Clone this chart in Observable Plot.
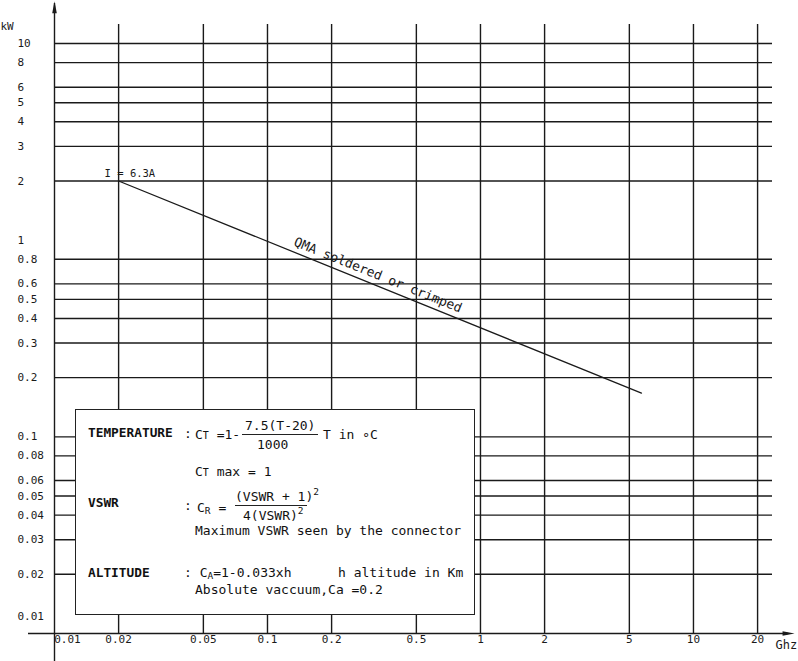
<!DOCTYPE html>
<html>
<head>
<meta charset="utf-8">
<script src="https://cdn.jsdelivr.net/npm/d3@7"></script>
<script src="https://cdn.jsdelivr.net/npm/@observablehq/plot@0.6"></script>
<style>
  html, body { margin: 0; padding: 0; background: #fff; }
  #wrap { position: relative; width: 798px; height: 661px; font-family: "DejaVu Sans Mono", monospace; color: #111; }
  #box { position: absolute; left: 75px; top: 409px; width: 398px; height: 204px; border: 1.5px solid #222; background: #fff; }
  #box .t { position: absolute; font-size: 13px; line-height: 1; white-space: pre; transform: translateY(-50%); }
  #box .b { font-weight: 700; font-size: 12.8px; }
  #box .sm { font-size: 10px; }
  #box .sub { font-size: 9.5px; position: relative; top: 2px; line-height: 1; }
  #box .sup { font-size: 9.5px; position: relative; top: -6px; line-height: 1; }
  #box .bar { position: absolute; height: 0; border-top: 1.2px solid #222; }
</style>
</head>
<body>
<div id="wrap"></div>
<script>
// ---- data ----
const xTicks = [0.01, 0.02, 0.05, 0.1, 0.2, 0.5, 1, 2, 5, 10, 20];
const yTicks = [0.01, 0.02, 0.03, 0.04, 0.05, 0.06, 0.08, 0.1, 0.2, 0.3, 0.4, 0.5, 0.6, 0.8, 1, 2, 3, 4, 5, 6, 8, 10];
const xGrid = [0.02, 0.05, 0.1, 0.2, 0.5, 1, 2, 5, 10, 20];
const yGrid = [0.02, 0.03, 0.04, 0.05, 0.06, 0.08, 0.1, 0.2, 0.3, 0.4, 0.5, 0.6, 0.8, 2, 3, 4, 5, 6, 8, 10];
const curveFreq = [0.02, 5.7];     // GHz
const curvePower = [2, 0.167];     // kW
const curveLabel = {x: 0.33, y: 0.584, text: "QMA soldered or crimped"};
const currentLabel = {x: 0.02, y: 2, text: "I = 6.3A"};
const xDomain = [0.01, 23.5];
const yDomain = [0.01, 12.5];
const xAxisExtent = [0.00755, 28];
const yAxisExtent = [0.0072, 16];
const xArrowAt = 27.6;
const yArrowAt = 15.1;

const curve = curveFreq.map((f, i) => ({f, p: curvePower[i]}));

const arrowSymbol = {
  draw(context, size) {
    const r = Math.sqrt(size / Math.PI);
    const h = 3 * r, w = 1.15 * r;
    context.moveTo(0, -0.6 * h);
    context.lineTo(w / 2, 0.4 * h);
    context.lineTo(-w / 2, 0.4 * h);
    context.closePath();
  }
};

const ink = "#1a1a1a";

const chart = Plot.plot({
  width: 798,
  height: 661,
  marginLeft: 54,
  marginRight: 26,
  marginTop: 24,
  marginBottom: 28,
  style: {fontFamily: "DejaVu Sans Mono", fontSize: "11px", background: "white", color: ink, overflow: "visible"},
  x: {type: "log", domain: xDomain, axis: null},
  y: {type: "log", domain: yDomain, axis: null},
  marks: [
    Plot.ruleY(yGrid, {y: d => d, stroke: ink, strokeWidth: 1.4}),
    Plot.ruleX(xGrid, {x: d => d, stroke: ink, strokeWidth: 1.4}),
    // axes with arrows
    Plot.ruleY([0.01], {y: d => d, x1: xAxisExtent[0], x2: xAxisExtent[1], stroke: ink, strokeWidth: 1.4}),
    Plot.ruleX([0.01], {x: d => d, y1: yAxisExtent[0], y2: yAxisExtent[1], stroke: ink, strokeWidth: 1.4}),
    Plot.dot([{x: xArrowAt, y: 0.01}], {x: "x", y: "y", symbol: arrowSymbol, r: 4, fill: ink, stroke: "none", rotate: 90}),
    Plot.dot([{x: 0.01, y: yArrowAt}], {x: "x", y: "y", symbol: arrowSymbol, r: 4, fill: ink, stroke: "none"}),
    // curve
    Plot.line(curve, {x: "f", y: "p", stroke: ink, strokeWidth: 1.3}),
    Plot.text([currentLabel], {x: "x", y: "y", text: "text", textAnchor: "start", dx: -14, dy: -7, fontSize: 10.5, fill: ink}),
    Plot.text([curveLabel], {x: "x", y: "y", text: "text", rotate: 22, dy: -11, fontSize: 13, fill: ink}),
    // tick labels
    Plot.text(yTicks.filter(d => d !== 0.01), {y: d => d, text: d => String(d), frameAnchor: "left", textAnchor: "start", dx: -37, fill: ink}),
    Plot.text(yTicks.filter(d => d === 0.01), {y: d => d, text: d => String(d), frameAnchor: "left", textAnchor: "start", dx: -37, dy: -17, fill: ink}),
    Plot.text(xTicks.filter(d => d !== 0.01), {x: d => d, text: d => String(d), frameAnchor: "bottom", dy: 9, fill: ink}),
    Plot.text(xTicks.filter(d => d === 0.01), {x: d => d, text: d => String(d), frameAnchor: "bottom", dx: 13, dy: 9, fill: ink}),
    // axis titles
    Plot.text(["kW"], {text: d => d, frameAnchor: "top-left", textAnchor: "start", dx: -54, dy: -2, fontSize: 11, fill: ink}),
    Plot.text(["Ghz"], {text: d => d, frameAnchor: "bottom-right", textAnchor: "start", dx: 3, dy: 15, fontSize: 12, fill: ink})
  ]
});

const wrap = document.getElementById("wrap");
wrap.appendChild(chart);

// correction-factor box (annotation)
const box = document.createElement("div");
box.id = "box";
box.innerHTML = `
  <div class="t b" style="left:12px; top:23px">TEMPERATURE</div>
  <div class="t" style="left:108px; top:23px">:</div>
  <div class="t" style="left:119px; top:24px">C<span class="sm">T</span> =1-</div>
  <div class="t" style="left:169px; top:15px">7.5(T-20)</div>
  <div class="bar" style="left:166px; top:24px; width:76px"></div>
  <div class="t" style="left:181px; top:34px">1000</div>
  <div class="t" style="left:247px; top:24px">T in &#8728;C</div>
  <div class="t" style="left:119px; top:61px">C<span class="sm">T</span> max = 1</div>
  <div class="t b" style="left:12px; top:93px">VSWR</div>
  <div class="t" style="left:108px; top:95px">:</div>
  <div class="t" style="left:121px; top:97px">C<span class="sub">R</span> =</div>
  <div class="t" style="left:159px; top:86px">(VSWR + 1)<span class="sup">2</span></div>
  <div class="bar" style="left:159px; top:95px; width:72px"></div>
  <div class="t" style="left:167px; top:105px">4(VSWR)<span class="sup">2</span></div>
  <div class="t" style="left:119px; top:120px">Maximum VSWR seen by the connector</div>
  <div class="t b" style="left:12px; top:163px">ALTITUDE</div>
  <div class="t" style="left:108px; top:162px">: C<span class="sub">A</span>=1-0.033xh</div>
  <div class="t" style="left:262px; top:162px">h altitude in Km</div>
  <div class="t" style="left:119px; top:179px">Absolute vaccuum,Ca =0.2</div>
`;
wrap.appendChild(box);
</script>
</body>
</html>
